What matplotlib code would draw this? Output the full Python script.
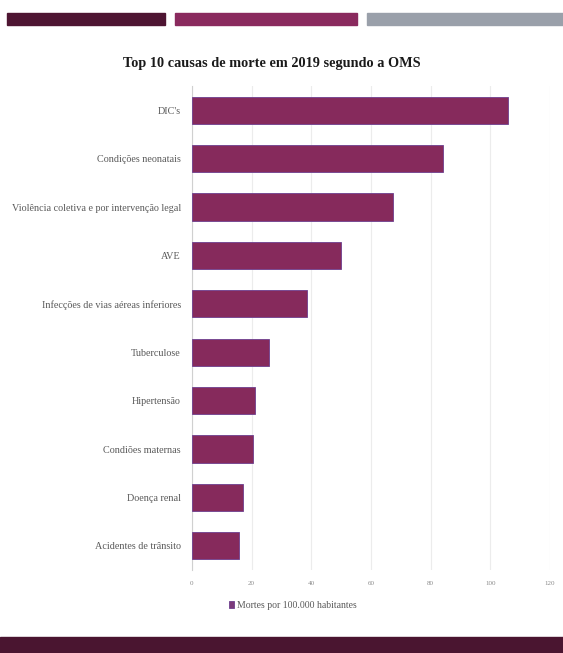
import matplotlib.pyplot as plt
from matplotlib.patches import Rectangle

# dados (OMS 2019)
causas = ["DIC's", "Condições neonatais", "Violência coletiva e por intervenção legal",
          "AVE", "Infecções de vias aéreas inferiores", "Tuberculose", "Hipertensão",
          "Condiões maternas", "Doença renal", "Acidentes de trânsito"]
mortes = [105.9, 84.1, 67.4, 50.0, 38.5, 25.8, 21.1, 20.4, 17.1, 15.8]
xticks = [0, 20, 40, 60, 80, 100, 120]

serif = ['Liberation Serif', 'DejaVu Serif']
bar_color = '#862a5c'

fig = plt.figure(figsize=(5.63, 6.53), dpi=100)

# faixas decorativas
def band(x0, y0, w, h, c):
    fig.patches.append(Rectangle((x0 / 563, 1 - (y0 + h) / 653), w / 563, h / 653,
                                 transform=fig.transFigure, color=c, zorder=0))

band(7, 13, 158, 12, '#4e1532')
band(175, 13, 182, 12, '#8a2a5e')
band(367, 13, 196, 12, '#9aa0aa')
band(0, 637, 563, 16, '#4a1530')

ax = fig.add_axes([192 / 563, 1 - 570 / 653, 358 / 563, 484 / 653])
ax.barh(causas, mortes, height=0.56, color=bar_color, edgecolor='#6e3f8e', linewidth=0.6,
        label='Mortes por 100.000 habitantes', zorder=3)
ax.set_ylim(9.5, -0.5)
ax.set_xlim(0, 120)
ax.set_xticks(xticks)
ax.grid(axis='x', color='#ececec', linewidth=0.8, zorder=0)
for s in ['top', 'right', 'bottom']:
    ax.spines[s].set_visible(False)
ax.spines['left'].set_color('#d0d0d0')
ax.tick_params(axis='both', length=0)
ax.tick_params(axis='x', labelsize=5, labelcolor='#8a8a8a', pad=8)
ax.tick_params(axis='y', labelsize=7.3, labelcolor='#595959', pad=8)
for lbl in ax.get_yticklabels() + ax.get_xticklabels():
    lbl.set_family(serif)

fig.text(0.482, 1 - 63 / 653, 'Top 10 causas de morte em 2019 segundo a OMS',
         ha='center', va='center', fontsize=10.3, fontweight='bold',
         family=serif, color='#1a1a1a')

leg = fig.legend(loc='center', bbox_to_anchor=(0.52, 1 - 605 / 653), frameon=False,
                 prop={'family': serif, 'size': 7}, handlelength=0.5, handleheight=0.7,
                 handletextpad=0.3, labelcolor='#595959')
leg.legend_handles[0].set_facecolor('#7b3a7a')

fig.savefig('out.png', dpi=100, facecolor='white')
